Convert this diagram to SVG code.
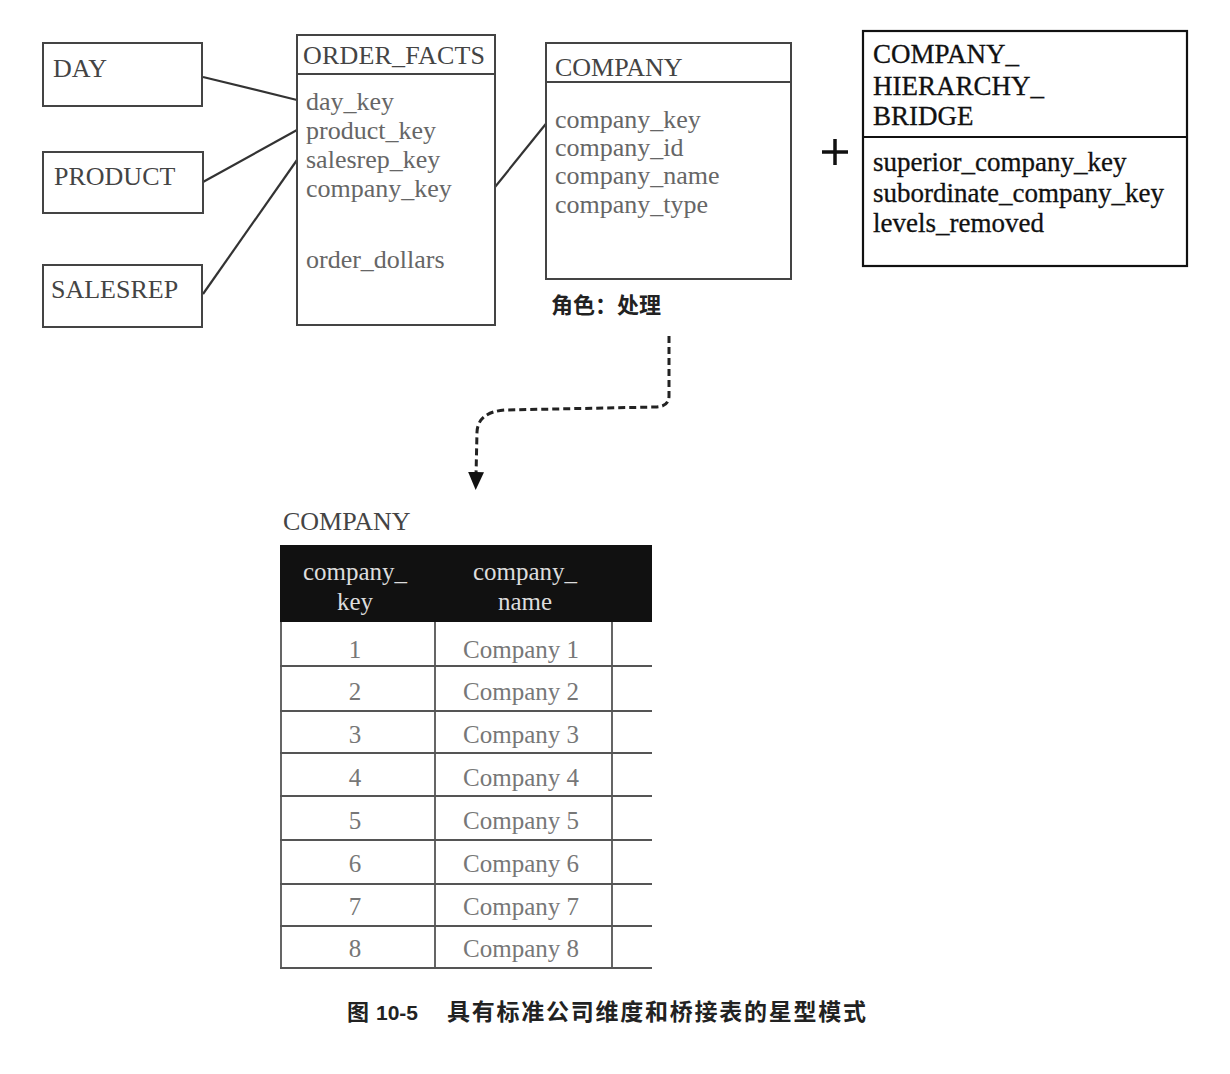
<svg xmlns="http://www.w3.org/2000/svg" width="1230" height="1074" viewBox="0 0 1230 1074">
<style>
  .box { fill: #fff; stroke: #444; stroke-width: 2; }
  .dark { fill: #fff; stroke: #111; stroke-width: 2.2; }
  .div { stroke: #444; stroke-width: 2; }
  .title { font-family: "Liberation Serif", serif; font-size: 26px; fill: #444; }
  .field { font-family: "Liberation Serif", serif; font-size: 26px; fill: #666; }
  .bridge { font-family: "Liberation Serif", serif; font-size: 27px; fill: #111; stroke: #111; stroke-width: 0.3; }
  .conn { stroke: #333; stroke-width: 2.2; fill: none; }
  .dash { stroke: #222; stroke-width: 3; fill: none; stroke-dasharray: 7 4; }
  .th { font-family: "Liberation Serif", serif; font-size: 25px; fill: #ddd; text-anchor: middle; }
  .td { font-family: "Liberation Serif", serif; font-size: 25px; fill: #777; text-anchor: middle; }
  .grid { stroke: #555; stroke-width: 1.8; }
  .cjk { font-family: "Liberation Sans", "Noto Sans CJK SC", sans-serif; font-weight: bold; fill: #222; }
</style>
<defs>
  <marker id="arrow" markerWidth="18" markerHeight="16" refX="4" refY="8" orient="auto" markerUnits="userSpaceOnUse" viewBox="0 0 18 16">
    <path d="M0,0 L18,8 L0,16 Z" fill="#111"/>
  </marker>
</defs>
<rect width="1230" height="1074" fill="#fff"/>

<g id="connectors">
  <line class="conn" x1="203" y1="77" x2="297" y2="100"/>
  <line class="conn" x1="203" y1="182" x2="297" y2="130"/>
  <line class="conn" x1="203" y1="294" x2="297" y2="160"/>
  <line class="conn" x1="495" y1="187" x2="549" y2="120"/>
  <path class="dash" d="M669,336 L669,396 Q669,407 655,407 L505,410 Q478,412 477,432 L476,476" marker-end="url(#arrow)"/>
</g>

<g id="day">
  <rect class="box" x="43" y="43" width="159" height="63"/>
  <text class="title" x="53" y="77">DAY</text>
</g>
<g id="product">
  <rect class="box" x="43" y="152" width="160" height="61"/>
  <text class="title" x="54" y="185">PRODUCT</text>
</g>
<g id="salesrep">
  <rect class="box" x="43" y="265" width="159" height="62"/>
  <text class="title" x="51" y="298">SALESREP</text>
</g>

<g id="order_facts">
  <rect class="box" x="297" y="35" width="198" height="290"/>
  <line class="div" x1="297" y1="74" x2="495" y2="74"/>
  <text class="title" x="303" y="64" textLength="182">ORDER_FACTS</text>
  <text class="field" x="306" y="110">day_key</text>
  <text class="field" x="306" y="139">product_key</text>
  <text class="field" x="306" y="168">salesrep_key</text>
  <text class="field" x="306" y="197">company_key</text>
  <text class="field" x="306" y="268">order_dollars</text>
</g>

<g id="company">
  <rect class="box" x="546" y="43" width="245" height="236"/>
  <line class="div" x1="546" y1="82" x2="791" y2="82"/>
  <text class="title" x="555" y="76">COMPANY</text>
  <text class="field" x="555" y="128">company_key</text>
  <text class="field" x="555" y="156">company_id</text>
  <text class="field" x="555" y="184">company_name</text>
  <text class="field" x="555" y="213">company_type</text>
  <text class="cjk" x="551" y="313" font-size="22">角色：处理</text>
</g>

<g id="plus">
  <line x1="835" y1="139" x2="835" y2="165" stroke="#111" stroke-width="3.5"/>
  <line x1="822" y1="152" x2="848" y2="152" stroke="#111" stroke-width="3.5"/>
</g>

<g id="bridge">
  <rect class="dark" x="863" y="31" width="324" height="235"/>
  <line x1="863" y1="137" x2="1187" y2="137" stroke="#111" stroke-width="2.2"/>
  <text class="bridge" x="873" y="63">COMPANY_</text>
  <text class="bridge" x="873" y="95">HIERARCHY_</text>
  <text class="bridge" x="873" y="125">BRIDGE</text>
  <text class="bridge" x="873" y="171">superior_company_key</text>
  <text class="bridge" x="873" y="202">subordinate_company_key</text>
  <text class="bridge" x="873" y="232">levels_removed</text>
</g>

<g id="company_table">
  <text class="title" x="283" y="530" fill="#555">COMPANY</text>
  <rect x="280" y="545" width="372" height="77" fill="#111"/>
  <text class="th" x="355" y="580">company_</text>
  <text class="th" x="355" y="610">key</text>
  <text class="th" x="525" y="580">company_</text>
  <text class="th" x="525" y="610">name</text>
  <line class="grid" x1="281" y1="622" x2="281" y2="968" stroke="#999"/>
  <line class="grid" x1="435" y1="622" x2="435" y2="968"/>
  <line class="grid" x1="612" y1="622" x2="612" y2="968"/>
  <line class="grid" x1="280" y1="666" x2="652" y2="666"/>
  <line class="grid" x1="280" y1="711" x2="652" y2="711"/>
  <line class="grid" x1="280" y1="753" x2="652" y2="753"/>
  <line class="grid" x1="280" y1="796" x2="652" y2="796"/>
  <line class="grid" x1="280" y1="840" x2="652" y2="840"/>
  <line class="grid" x1="280" y1="884" x2="652" y2="884"/>
  <line class="grid" x1="280" y1="926" x2="652" y2="926"/>
  <line class="grid" x1="280" y1="968" x2="652" y2="968"/>
  <text class="td" x="355" y="658">1</text><text class="td" x="521" y="658">Company 1</text>
  <text class="td" x="355" y="700">2</text><text class="td" x="521" y="700">Company 2</text>
  <text class="td" x="355" y="743">3</text><text class="td" x="521" y="743">Company 3</text>
  <text class="td" x="355" y="786">4</text><text class="td" x="521" y="786">Company 4</text>
  <text class="td" x="355" y="829">5</text><text class="td" x="521" y="829">Company 5</text>
  <text class="td" x="355" y="872">6</text><text class="td" x="521" y="872">Company 6</text>
  <text class="td" x="355" y="915">7</text><text class="td" x="521" y="915">Company 7</text>
  <text class="td" x="355" y="957">8</text><text class="td" x="521" y="957">Company 8</text>
</g>

<g id="caption">
  <text class="cjk" x="347" y="1020" font-size="22">图</text>
  <text class="cjk" x="376" y="1020" font-size="21">10-5</text>
  <text class="cjk" x="447" y="1020" font-size="23" textLength="419">具有标准公司维度和桥接表的星型模式</text>
</g>
</svg>
